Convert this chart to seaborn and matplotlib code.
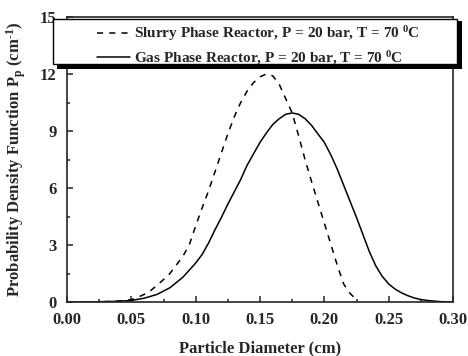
import matplotlib
matplotlib.use("Agg")
import matplotlib.pyplot as plt
from matplotlib.patches import Rectangle
from matplotlib.ticker import MultipleLocator
import numpy as np
import pandas as pd
import seaborn as sns

# ---- data ----
gas_x = [0.000, 0.010, 0.020, 0.030, 0.040, 0.050, 0.060, 0.070, 0.080, 0.090,
         0.100, 0.105, 0.110, 0.115, 0.120, 0.125, 0.130, 0.135, 0.140, 0.145,
         0.150, 0.155, 0.160, 0.165, 0.170, 0.175, 0.180, 0.185, 0.190, 0.195,
         0.200, 0.205, 0.210, 0.215, 0.220, 0.225, 0.230, 0.235, 0.240, 0.245,
         0.250, 0.255, 0.260, 0.265, 0.270, 0.275, 0.280, 0.285, 0.290, 0.295, 0.300]
gas_y = [0.0, 0.0, 0.01, 0.02, 0.04, 0.08, 0.2, 0.4, 0.75, 1.3,
         2.05, 2.5, 3.1, 3.8, 4.45, 5.15, 5.8, 6.45, 7.2, 7.8,
         8.4, 8.9, 9.35, 9.65, 9.88, 9.95, 9.88, 9.65, 9.3, 8.85,
         8.4, 7.75, 7.0, 6.15, 5.3, 4.45, 3.55, 2.65, 1.9, 1.35,
         0.95, 0.68, 0.48, 0.33, 0.21, 0.13, 0.08, 0.05, 0.02, 0.01, 0.0]

slurry_x = [0.000, 0.010, 0.020, 0.030, 0.040, 0.050, 0.055, 0.060, 0.065, 0.070,
            0.075, 0.080, 0.085, 0.090, 0.095, 0.100, 0.105, 0.110, 0.115, 0.120,
            0.125, 0.130, 0.135, 0.140, 0.145, 0.150, 0.155, 0.160, 0.165, 0.170,
            0.175, 0.180, 0.185, 0.190, 0.195, 0.200, 0.205, 0.210, 0.215, 0.220, 0.225]
slurry_y = [0.0, 0.0, 0.01, 0.02, 0.05, 0.12, 0.25, 0.4, 0.6, 0.88,
            1.18, 1.5, 1.95, 2.4, 3.0, 4.0, 4.95, 5.85, 6.85, 7.85,
            8.85, 9.75, 10.5, 11.1, 11.55, 11.85, 12.0, 11.9, 11.45, 10.7,
            9.95, 8.75, 7.5, 6.35, 5.25, 4.15, 3.05, 1.95, 0.95, 0.45, 0.12]

label_slurry = r"Slurry Phase Reactor, P = 20 bar, T = 70 $^{\mathbf{0}}$C"
label_gas = r"Gas Phase Reactor, P = 20 bar, T = 70 $^{\mathbf{0}}$C"

x_ticks = [0.00, 0.05, 0.10, 0.15, 0.20, 0.25, 0.30]
y_ticks = [0, 3, 6, 9, 12, 15]

df_slurry = pd.DataFrame({"d": slurry_x, "p": slurry_y})
df_gas = pd.DataFrame({"d": gas_x, "p": gas_y})

# ---- style ----
sns.set_style("ticks")
plt.rcParams["font.family"] = ["Liberation Serif", "DejaVu Serif"]
plt.rcParams["font.weight"] = "bold"
plt.rcParams["mathtext.fontset"] = "custom"
plt.rcParams["mathtext.rm"] = "Liberation Serif:bold"
plt.rcParams["mathtext.bf"] = "Liberation Serif:bold"
plt.rcParams["mathtext.it"] = "Liberation Serif:bold"
plt.rcParams["mathtext.default"] = "bf"

W, H = 468, 356
fig = plt.figure(figsize=(W / 100, H / 100), dpi=100)
ax = fig.add_axes([67 / W, 1 - 302 / H, (453 - 67) / W, (302 - 17) / H])

dash = (0, (4.0, 4.0))
sns.lineplot(data=df_slurry, x="d", y="p", ax=ax, color="black", lw=1.1,
             linestyle=dash, label=label_slurry)
sns.lineplot(data=df_gas, x="d", y="p", ax=ax, color="black", lw=1.1,
             linestyle="-", label=label_gas)

ax.set_xlim(0, 0.30)
ax.set_ylim(0, 15)
ax.set_xticks(x_ticks)
ax.set_yticks(y_ticks)
ax.set_xticklabels([f"{t:.2f}" for t in x_ticks])
ax.set_yticklabels([str(t) for t in y_ticks])
ax.xaxis.set_minor_locator(MultipleLocator(0.025))
ax.yaxis.set_minor_locator(MultipleLocator(1.5))
ax.tick_params(which="both", direction="in", width=1.1, labelsize=12)
ax.tick_params(which="major", length=4)
ax.tick_params(which="minor", length=2.5)
ax.tick_params(axis="x", which="major", pad=7)
ax.tick_params(axis="y", which="major", pad=7.5)
for s in ax.spines.values():
    s.set_linewidth(1.2)
    s.set_visible(True)

ax.set_xlabel("Particle Diameter (cm)", fontsize=12, fontweight="bold")
ax.xaxis.set_label_coords(0.5, -0.136)
ax.set_ylabel(r"Probability Density Function P$_{\mathbf{p}}$ (cm$^{\text{-1}}$)",
              fontsize=12, fontweight="bold")
ax.yaxis.set_label_coords(-0.102, 0.5)

# legend box with shadow (figure pixel coords)
x0, y0, x1, y1 = 53, 19, 457, 64
fig.add_artist(Rectangle((57 / W, 1 - 69 / H), (462 - 57) / W, (69 - 21) / H,
                         transform=fig.transFigure, facecolor="black", edgecolor="black",
                         lw=0, zorder=3))
fig.add_artist(Rectangle((x0 / W, 1 - y1 / H), (x1 - x0) / W, (y1 - y0) / H,
                         transform=fig.transFigure, facecolor="white", edgecolor="black",
                         lw=1.0, zorder=4))
handles, labels = ax.get_legend_handles_labels()
ax.get_legend().remove()
fig.legend(handles, labels, loc="center",
           bbox_to_anchor=((99 + 418) / 2 / W, 1 - 45.5 / H),
           frameon=False, fontsize=11, handlelength=2.15, handletextpad=0.25,
           labelspacing=0.4, borderpad=0.0, borderaxespad=0.0)

fig.savefig("out.png", dpi=100)
